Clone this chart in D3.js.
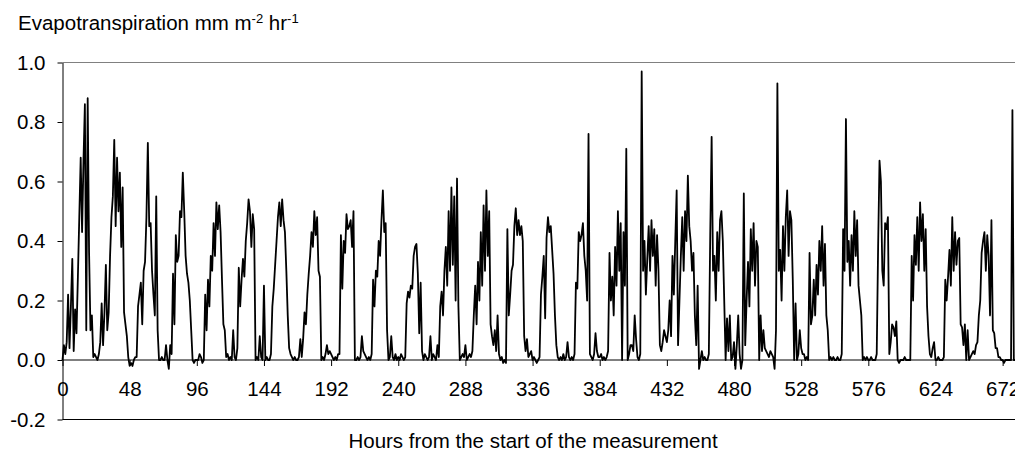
<!DOCTYPE html>
<html>
<head>
<meta charset="utf-8">
<script src="https://cdn.jsdelivr.net/npm/d3@7"></script>
<style>
  body { margin: 0; background: #fff; }
  svg text { font-family: "Liberation Sans", Arial, sans-serif; fill: #000; }
</style>
</head>
<body>
<svg id="chart" width="1015" height="455"></svg>
<script>
// hourly evapotranspiration in hundredths of mm m-2 hr-1, one line per day (24 h)
var week1 = [
  0, 5, 2, 6, 22, 4, 18, 34, 3, 17, 9, 28, 48, 68, 43, 67, 86, 10, 88, 36, 10, 15, 1, 2,
  1, 0, 2, 6, 19, 5, 16, 32, 10, 16, 35, 48, 55, 74, 45, 68, 50, 63, 38, 58, 16, 12, 8, 1,
  -2, -1, -2, 0, 1, 1, 18, 22, 26, 12, 30, 33, 48, 73, 45, 46, 30, 22, 15, 55, 10, 0, 0, 1,
  0, 0, 5, 0, -3, 5, 2, 29, 12, 42, 33, 35, 50, 48, 63, 50, 35, 29, 26, 20, 10, 0, -1, 0,
  0, 0, 2, 1, -1, 0, 22, 10, 27, 18, 35, 30, 46, 35, 53, 44, 52, 43, 27, 12, 10, 1, 2, 0,
  1, 0, 10, 1, 0, 4, 31, 18, 27, 34, 28, 40, 46, 54, 50, 38, 49, 44, 0, 1, 0, 8, 1, 0,
  25, 0, 1, 0, 0, 2, 18, 24, 32, 40, 48, 53, 45, 54, 47, 43, 30, 15, 4, 2, 1, 0, 1, 0
];
var week2 = [
  0, 1, 7, 1, 7, 16, 12, 22, 29, 35, 43, 38, 50, 42, 48, 30, 28, 0, 1, 0, 2, 5, 2, 3,
  2, 1, 0, 1, 0, 2, 2, 42, 24, 40, 36, 49, 44, 45, 47, 38, 50, 0, 0, 1, 0, 1, 8, 3,
  2, 1, 0, 1, 0, 2, 27, 18, 30, 28, 40, 35, 47, 57, 43, 46, 10, 0, 1, 8, 1, 0, 2, 0,
  1, 0, 2, 1, 0, 1, 19, 23, 21, 25, 24, 35, 38, 39, 29, 9, 26, 3, 0, 2, 1, 0, 1, 8,
  0, 2, 1, 0, 5, 1, 18, 23, 15, 30, 38, 25, 50, 30, 58, 32, 55, 20, 61, 18, 0, 1, 2, 1,
  5, 0, 1, 2, 1, 3, 15, 25, 12, 33, 20, 43, 25, 52, 30, 57, 35, 50, 12, 8, 5, 10, 3, 15,
  2, 0, 1, -1, 0, -1, 44, 15, 22, 30, 32, 45, 51, 42, 47, 42, 45, 40, 8, 3, 7, 1, 2, 3
];
var week3 = [
  0, 1, 0, -1, 0, 1, 22, 28, 35, 14, 41, 48, 43, 45, 37, 29, 15, 5, 1, 0, 1, 0, 2, 0,
  1, 6, 1, 0, 1, 0, 2, 26, 24, 43, 40, 42, 46, 35, 30, 20, 76, 2, 1, 0, 2, 9, 3, 1,
  1, 2, 0, 1, 0, 1, 3, 36, 20, 28, 15, 38, 25, 50, 30, 46, 0, 43, 25, 71, 0, 2, 5, 5,
  3, 15, 7, 1, 0, 2, 97, 30, 40, 22, 34, 45, 30, 47, 35, 44, 25, 42, 30, 5, 3, 6, 10, 8,
  6, 10, 20, 8, 35, 22, 40, 57, 5, 20, 35, 48, 30, 50, 40, 62, 45, 40, 30, 36, 15, 5, 25, -3,
  0, 3, 0, 1, 0, 0, 2, 42, 75, 30, 35, 20, 43, 30, 47, 50, 40, 20, 0, 14, 3, 15, 0, 1,
  6, -3, 5, 15, 2, -3, 0, 56, 5, 20, 33, 18, 44, 30, 46, 25, 40, 38, 0, 15, 3, 10, 4, 3
];
var week4 = [
  2, 1, 3, 2, 1, -3, 10, 93, 30, 37, 20, 45, 30, 48, 57, 35, 50, 47, 27, 0, 19, 0, 2, 10,
  4, 2, 2, 0, 1, 0, 36, 12, 15, 27, 15, 32, 22, 40, 30, 45, 25, 39, 15, 10, 0, 1, 0, 1,
  0, 0, 1, 0, 0, 2, 44, 30, 81, 33, 40, 25, 42, 30, 50, 35, 47, 25, 20, 15, 0, 1, 0, 1,
  0, 0, 1, 0, 0, 0, 2, 38, 67, 60, 30, 25, 46, 44, 48, 2, 6, 12, 11, 8, 13, 0, -1, 0,
  0, 0, 1, 0, 0, 0, 0, 35, 20, 42, 32, 48, 30, 53, 40, 49, 30, 44, 18, 8, 2, 1, 4, 6,
  0, 0, 1, 0, 0, 0, 1, 27, 20, 28, 37, 25, 48, 30, 43, 32, 40, 41, 12, 11, 5, 12, 0, 10,
  0, 1, 2, 3, 2, 5, 6, 15, 20, 36, 40, 43, 30, 42, 35, 15, 47, 10, 9, 4, 4, 1, 1, 0
];
var lastHours = [0, -1, 0, 0, 0, 0, 0, 84, 0, 0];

var xTicks = [0, 48, 96, 144, 192, 240, 288, 336, 384, 432, 480, 528, 576, 624, 672];
var yTicks = [-0.2, 0, 0.2, 0.4, 0.6, 0.8, 1.0];

var yTitle = "Evapotranspiration mm m";
var xTitle = "Hours from the start of the measurement";

(function () {
  var et = week1.concat(week2, week3, week4, lastHours).map(function (v, i) {
    return { hour: i, value: v / 100 };
  });

  var svg = d3.select("#chart"),
      pl = 62.5, pr = 1015, pt = 62.5, pb = 419.5;

  var x = d3.scaleLinear().domain([0, 672]).range([pl, pl + 672 * 1.399]);
  var y = d3.scaleLinear().domain([-0.2, 1.0]).range([pb, pt]);

  // frame: grey top edge, black bottom edge
  svg.append("line").attr("x1", pl).attr("x2", pr).attr("y1", pt).attr("y2", pt)
     .attr("stroke", "#808080").attr("stroke-width", 1);
  svg.append("line").attr("x1", pl).attr("x2", pr).attr("y1", pb).attr("y2", pb)
     .attr("stroke", "#000").attr("stroke-width", 1);

  // y axis
  var yAxis = svg.append("g").attr("transform", "translate(" + pl + ",0)")
     .call(d3.axisLeft(y).tickValues(yTicks).tickSizeInner(5).tickSizeOuter(0).tickPadding(12)
          .tickFormat(function (d) { return d.toFixed(1); }));
  yAxis.selectAll("text").style("font-size", "20.5px");
  yAxis.selectAll("line, path").attr("stroke", "#000");

  // x axis on the zero line
  var xAxis = svg.append("g").attr("transform", "translate(0," + y(0) + ")")
     .call(d3.axisBottom(x).tickValues(xTicks).tickSizeInner(6).tickSizeOuter(0).tickPadding(15)
          .tickFormat(d3.format("d")));
  xAxis.select(".domain").remove();
  xAxis.selectAll("text").style("font-size", "20.5px");
  xAxis.selectAll("line").attr("stroke", "#000");
  xAxis.append("line").attr("x1", pl).attr("x2", pr).attr("stroke", "#000");

  // series
  var line = d3.line().x(function (d) { return x(d.hour); }).y(function (d) { return y(d.value); });
  svg.append("path").datum(et).attr("d", line)
     .attr("fill", "none").attr("stroke", "#000").attr("stroke-width", 1.8)
     .attr("stroke-linejoin", "round");

  // titles
  var t = svg.append("text").attr("x", 18).attr("y", 30).style("font-size", "20.5px").text(yTitle);
  t.append("tspan").attr("dy", -7).style("font-size", "13px").text("-2");
  t.append("tspan").attr("dy", 7).text(" hr");
  t.append("tspan").attr("dy", -7).style("font-size", "13px").text("-1");

  svg.append("text").attr("x", 533).attr("y", 448).attr("text-anchor", "middle")
     .style("font-size", "20.5px").text(xTitle);
})();
</script>
</body>
</html>
